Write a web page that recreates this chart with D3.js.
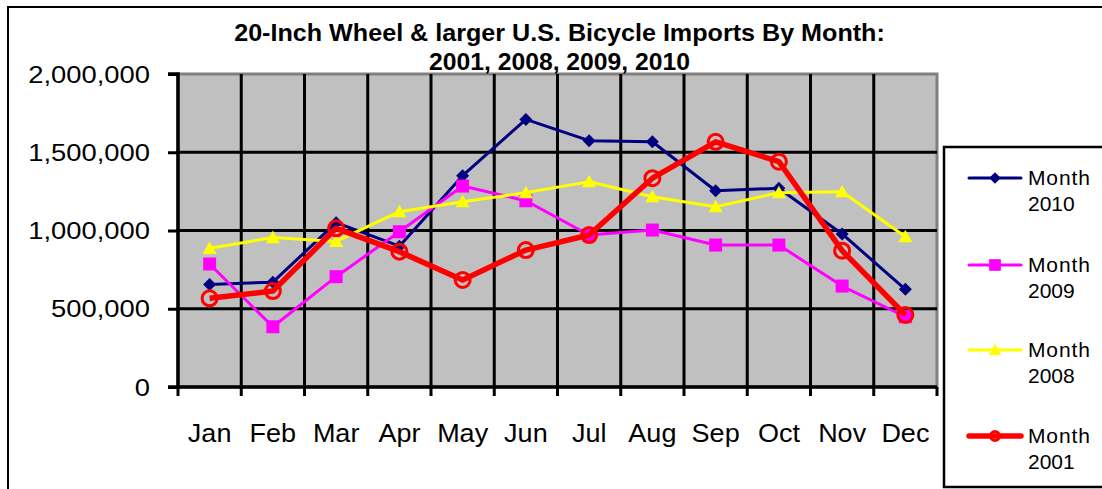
<!DOCTYPE html>
<html>
<head>
<meta charset="utf-8">
<script src="https://cdn.jsdelivr.net/npm/d3@7"></script>
<style>
  html, body { margin: 0; padding: 0; background: #fff; }
  svg { display: block; font-family: "Liberation Sans", Arial, sans-serif; }
</style>
</head>
<body>
<svg id="chart" width="1102" height="489"></svg>
<script>
const months = ["Jan","Feb","Mar","Apr","May","Jun","Jul","Aug","Sep","Oct","Nov","Dec"];
const yTicks = [0, 500000, 1000000, 1500000, 2000000];
const titleLines = ["20-Inch Wheel & larger U.S. Bicycle Imports By Month:", "2001, 2008, 2009, 2010"];

const month2010 = [655000, 670000, 1050000, 900000, 1350000, 1710000, 1574000, 1567000, 1254000, 1270000, 978000, 624000];
const month2009 = [786000, 385000, 705000, 992000, 1284000, 1190000, 971000, 1003000, 907000, 907000, 645000, 449000];
const month2008 = [886000, 955000, 930000, 1120000, 1184000, 1242000, 1312000, 1216000, 1152000, 1242000, 1248000, 960000];
const month2001 = [567000, 613000, 1014000, 865000, 684000, 875000, 971000, 1334000, 1567000, 1440000, 871000, 460000];

const seriesNames = [["Month", "2010"], ["Month", "2009"], ["Month", "2008"], ["Month", "2001"]];

const series = [
  {name: seriesNames[0], values: month2010, color: "#000080", width: 3, marker: "diamond"},
  {name: seriesNames[1], values: month2009, color: "#FF00FF", width: 3, marker: "square"},
  {name: seriesNames[2], values: month2008, color: "#FFFF00", width: 3, marker: "triangle"},
  {name: seriesNames[3], values: month2001, color: "#FF0000", width: 5.5, marker: "circle"}
];

const svg = d3.select("#chart");
const L = 178, R = 937, T = 74, B = 387;

const x = d3.scaleBand().domain(months).range([L, R]).paddingInner(0).paddingOuter(0);
const y = d3.scaleLinear().domain([0, 2000000]).range([B, T]);

function stretch(sel, factor, adjust) {
  sel.each(function() {
    const n = this.getComputedTextLength();
    d3.select(this).attr("textLength", n * factor).attr("lengthAdjust", adjust || "spacingAndGlyphs");
  });
}

// outer chart border
svg.append("rect").attr("x", 8).attr("y", 7).attr("width", 1200).attr("height", 600)
  .attr("fill", "#fff").attr("stroke", "#000").attr("stroke-width", 2);

// plot area
svg.append("rect").attr("x", L).attr("y", T).attr("width", R - L).attr("height", B - T)
  .attr("fill", "#C0C0C0").attr("stroke", "#808080").attr("stroke-width", 3);

// horizontal gridlines
svg.append("g").selectAll("line").data(yTicks.slice(1, 4)).join("line")
  .attr("x1", L).attr("x2", R).attr("y1", d => y(d)).attr("y2", d => y(d))
  .attr("stroke", "#000").attr("stroke-width", 3);

// vertical gridlines at band boundaries
svg.append("g").selectAll("line").data(months.slice(1)).join("line")
  .attr("x1", d => x(d)).attr("x2", d => x(d)).attr("y1", T).attr("y2", B)
  .attr("stroke", "#000").attr("stroke-width", 3);

// Y axis
const yAxis = d3.axisLeft(y).tickValues(yTicks).tickSize(10).tickFormat(d3.format(","));
const gy = svg.append("g").attr("transform", `translate(${L},0)`).call(yAxis);
gy.select(".domain").attr("stroke", "#000").attr("stroke-width", 3.5).attr("d", `M${-10},${T}H0V${B}H${-10}`);
gy.selectAll(".tick line").attr("stroke", "#000").attr("stroke-width", 3);
gy.selectAll(".tick text").attr("x", -28).attr("dy", "0.34em")
  .attr("font-size", 24).attr("fill", "#000").attr("font-family", "Liberation Sans, Arial, sans-serif")
  .call(stretch, 1.14);

// X axis
const xAxis = d3.axisBottom(x).tickSize(0).tickPadding(0);
const gx = svg.append("g").attr("transform", `translate(0,${B})`).call(xAxis);
gx.select(".domain").attr("stroke", "#000").attr("stroke-width", 3.5).attr("d", `M${L},0H${R}`);
gx.selectAll(".tick text").attr("y", 55).attr("dy", 0)
  .attr("font-size", 25).attr("fill", "#000").attr("font-family", "Liberation Sans, Arial, sans-serif")
  .call(stretch, 1.08);
// x ticks at band boundaries
const boundaries = months.map(m => x(m)).concat([x(months[months.length - 1]) + x.bandwidth()]);
svg.append("g").selectAll("line").data(boundaries).join("line")
  .attr("x1", d => d).attr("x2", d => d).attr("y1", B).attr("y2", B + 9)
  .attr("stroke", "#000").attr("stroke-width", 3);

// markers
function drawMarker(g, type, color, cx, cy, scale) {
  const s = scale || 1;
  if (type === "diamond") {
    const r = 6.5 * s;
    g.append("path").attr("d", `M${cx},${cy - r}L${cx + r},${cy}L${cx},${cy + r}L${cx - r},${cy}Z`).attr("fill", color);
  } else if (type === "square") {
    const h = 6.5 * s;
    g.append("rect").attr("x", cx - h).attr("y", cy - h).attr("width", 2 * h).attr("height", 2 * h).attr("fill", color);
  } else if (type === "triangle") {
    const h = 7 * s;
    g.append("path").attr("d", `M${cx},${cy - h}L${cx + h},${cy + h * 0.8}L${cx - h},${cy + h * 0.8}Z`).attr("fill", color);
  } else if (type === "circle") {
    g.append("circle").attr("cx", cx).attr("cy", cy).attr("r", 7.5 * s)
      .attr("fill", "none").attr("stroke", color).attr("stroke-width", 3);
  }
}

const line = d3.line().x((d, i) => x(months[i]) + x.bandwidth() / 2).y(d => y(d));

series.forEach(s => {
  const g = svg.append("g");
  g.append("path").datum(s.values).attr("d", line)
    .attr("fill", "none").attr("stroke", s.color).attr("stroke-width", s.width)
    .attr("stroke-linejoin", "round");
  s.values.forEach((v, i) => drawMarker(g, s.marker, s.color, x(months[i]) + x.bandwidth() / 2, y(v)));
});

// Title
const title = svg.append("g").attr("font-weight", "bold").attr("font-size", 24).attr("fill", "#000").attr("text-anchor", "middle");
title.append("text").attr("x", 559.5).attr("y", 41).text(titleLines[0]).call(stretch, 1.047);
title.append("text").attr("x", 559.5).attr("y", 70).text(titleLines[1]).call(stretch, 1.03);

// Legend
svg.append("rect").attr("x", 944).attr("y", 147).attr("width", 300).attr("height", 340)
  .attr("fill", "#fff").attr("stroke", "#000").attr("stroke-width", 2.5);
const legendY = [178, 265, 350, 436];
series.forEach((s, i) => {
  const g = svg.append("g");
  const ly = legendY[i];
  g.append("line").attr("x1", 969).attr("x2", 1021).attr("y1", ly).attr("y2", ly)
    .attr("stroke", s.color).attr("stroke-width", s.width).attr("stroke-linecap", "round");
  drawMarker(g, s.marker, s.color, 995, ly, s.marker === "circle" ? 0.6 : 0.9);
  g.append("text").attr("x", 1028).attr("y", ly + 7).attr("font-size", 21).attr("fill", "#000")
    .text(s.name[0]).call(stretch, 1.06, "spacing");
  g.append("text").attr("x", 1028).attr("y", ly + 33).attr("font-size", 21).attr("fill", "#000")
    .text(s.name[1]);
});
</script>
</body>
</html>
